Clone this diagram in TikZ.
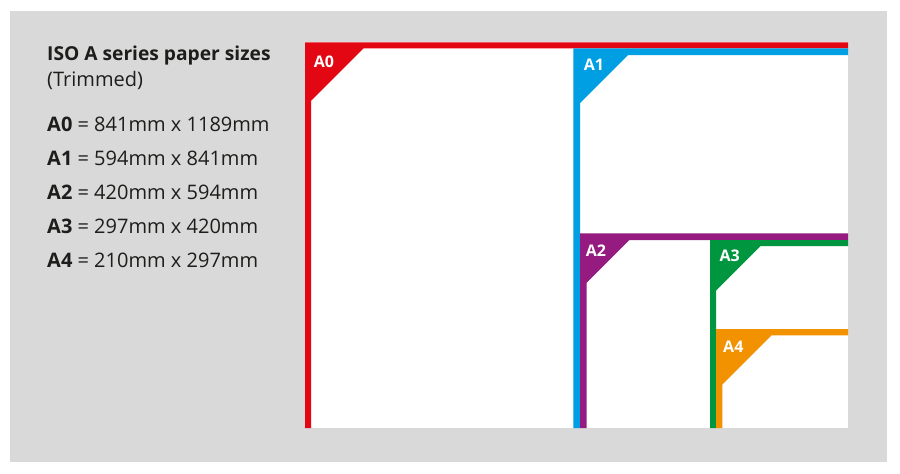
\documentclass[tikz,border=0pt]{standalone}
\usepackage{fontspec}
\setmainfont{Open Sans}
\usepackage{xcolor}
\usepackage{tikz}

\definecolor{sheetgray}{RGB}{217,217,217}
\definecolor{inkdark}{RGB}{29,29,27}
\definecolor{aored}{RGB}{227,6,19}
\definecolor{aoneblue}{RGB}{0,159,227}
\definecolor{atwopurple}{RGB}{149,27,129}
\definecolor{athreegreen}{RGB}{0,150,64}
\definecolor{afourorange}{RGB}{243,146,0}

\tikzset{
  sheetlabel/.style={text=white, inner sep=0pt, font=\fontsize{16}{16}\selectfont\bfseries},
  sizeline/.style={anchor=base west, inner sep=0pt, text=inkdark, font=\fontsize{20}{24}\selectfont},
}

% colour, left, top, bar width, corner leg
\newcommand{\papersheet}[5]{%
  \fill[#1] (#2,#3) -- (848,#3) -- (848,{#3+#4}) -- ({#2+#4+#5},{#3+#4})
    -- ({#2+#4},{#3+#4+#5}) -- ({#2+#4},428) -- (#2,428) -- cycle;}

\begin{document}
\begin{tikzpicture}[x=1pt,y=-1pt]
    \useasboundingbox (0,0) rectangle (900,474);
    \fill[white] (0,0) rectangle (900,474);
    \fill[sheetgray] (10,11) rectangle (887,462.3);
    \fill[white] (305,42.3) rectangle (848,428);

    % sheets, largest first
    \papersheet{aored}{305}{42.3}{6}{52.5}
    \papersheet{aoneblue}{573.3}{48.3}{6.7}{48}
    \papersheet{atwopurple}{580}{233.3}{6.7}{42.6}
    \papersheet{athreegreen}{710}{240}{6}{44.5}
    \papersheet{afourorange}{716}{329}{6.3}{49.2}

    \node[sheetlabel] (lblA0) at (324,62) {A0};
    \node[sheetlabel] (lblA1) at (594,65) {A1};
    \node[sheetlabel] (lblA2) at (596,251) {A2};
    \node[sheetlabel] (lblA3) at (729.7,256) {A3};
    \node[sheetlabel] (lblA4) at (733.3,347) {A4};

    % key on the left
    \node[sizeline, font=\fontsize{19.2}{24}\selectfont\bfseries] (title) at (47,60.5) {ISO A series paper sizes};
    \node[sizeline] (trimmed) at (47,86) {(Trimmed)};
    \foreach \name/\dims [count=\i] in {A0/841mm x 1189mm, A1/594mm x 841mm,
        A2/420mm x 594mm, A3/297mm x 420mm, A4/210mm x 297mm}
        \node[sizeline] (size\name) at (47,{131+34.2*(\i-1)}) {\textbf{\name} = \dims};
\end{tikzpicture}
\end{document}
